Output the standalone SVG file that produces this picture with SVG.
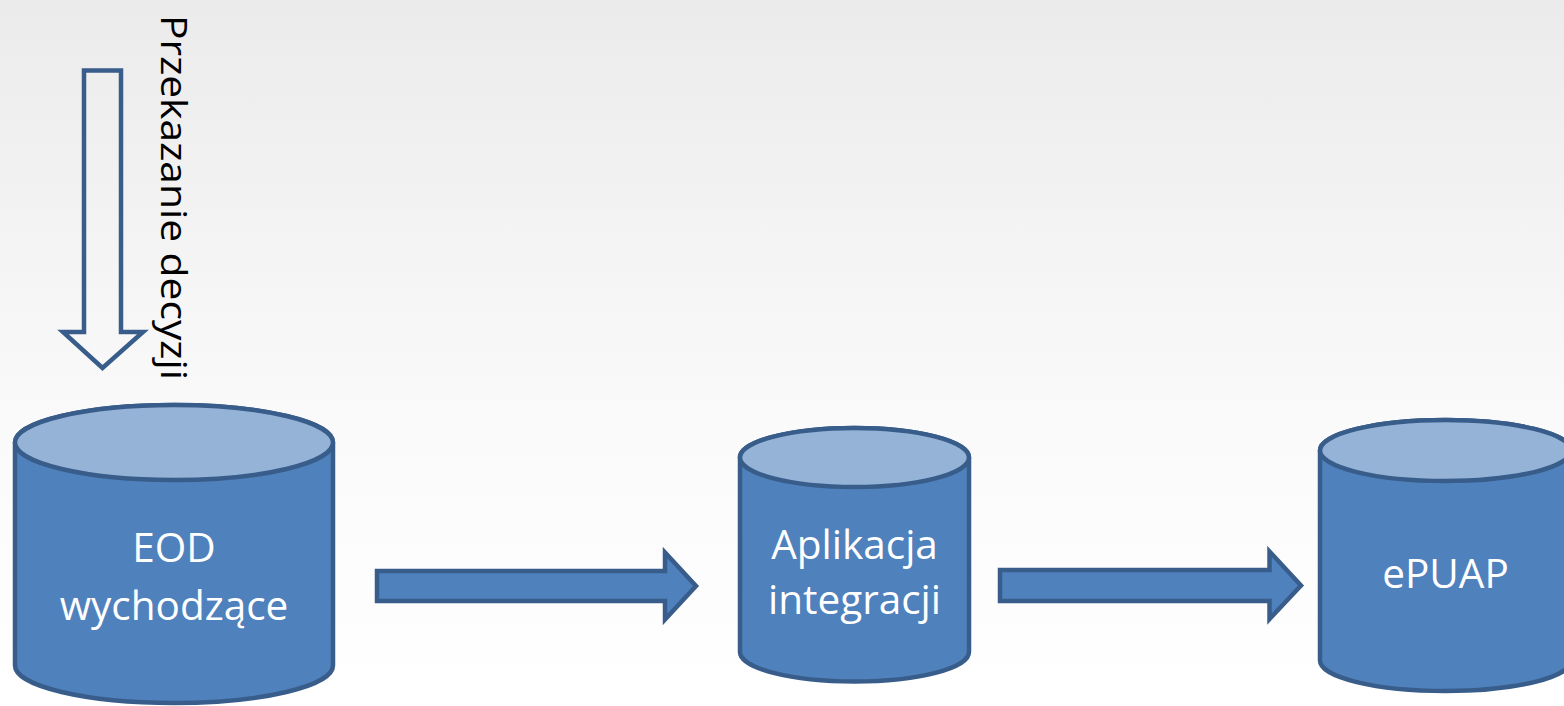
<svg xmlns="http://www.w3.org/2000/svg" width="1564" height="706" viewBox="0 0 1564 706">
  <defs>
    <linearGradient id="bg" x1="0" y1="0" x2="0" y2="1">
      <stop offset="0" stop-color="#ebebeb"/>
      <stop offset="0.6" stop-color="#fafafa"/>
      <stop offset="1" stop-color="#ffffff"/>
    </linearGradient>
  </defs>
  <style>
    .body { fill: #4f81bd; stroke: #385d8a; stroke-width: 4.5; stroke-linejoin: round; }
    .lid { fill: #95b3d7; stroke: #385d8a; stroke-width: 4.5; }
    .flow { fill: #4f81bd; stroke: #385d8a; stroke-width: 4.5; stroke-linejoin: miter; }
    .hollow { fill: none; stroke: #385d8a; stroke-width: 4.5; stroke-linejoin: miter; }
    .lbl { font-family: "Open Sans", "Liberation Sans", sans-serif; font-size: 40.5px; fill: #ffffff; text-anchor: middle; }
    .vt { font-family: "Open Sans", "Liberation Sans", sans-serif; font-size: 36px; fill: #000000; }
  </style>
  <rect x="0" y="0" width="1564" height="706" fill="url(#bg)"/>

  <g id="connectors">
    <polygon id="arrow-decision" class="hollow" points="84,70.5 121,70.5 121,332 143,332 102.5,368 63,332 84,332"/>
    <polygon id="arrow-eod-app" class="flow" points="377,571 665,571 665,552.5 696,586 665,619.5 665,601 377,601"/>
    <polygon id="arrow-app-epuap" class="flow" points="1000,570 1269.5,570 1269.5,551.5 1301,585.5 1269.5,619 1269.5,601 1000,601"/>
  </g>

  <g id="label-decision">
    <text class="vt" transform="translate(161,15) rotate(90)" x="0" y="0" textLength="365" lengthAdjust="spacingAndGlyphs">Przekazanie decyzji</text>
  </g>

  <g id="node-eod">
    <path class="body" d="M15,442.5 V665.5 A159,37.5 0 0 0 333,665.5 V442.5 A159,37.5 0 0 0 15,442.5 Z"/>
    <ellipse class="lid" cx="174" cy="442.5" rx="159" ry="37.5"/>
    <text class="lbl" x="174" y="562">EOD</text>
    <text class="lbl" x="174" y="619.5">wychodzące</text>
  </g>

  <g id="node-app">
    <path class="body" d="M740,457.5 V652 A114.5,29.5 0 0 0 969,652 V457.5 A114.5,29.5 0 0 0 740,457.5 Z"/>
    <ellipse class="lid" cx="854.5" cy="457.5" rx="114.5" ry="29.5"/>
    <text class="lbl" x="854.5" y="559">Aplikacja</text>
    <text class="lbl" x="854.5" y="614">integracji</text>
  </g>

  <g id="node-epuap">
    <path class="body" d="M1320,450.5 V660.5 A125.5,30.5 0 0 0 1571,660.5 V450.5 A125.5,30.5 0 0 0 1320,450.5 Z"/>
    <ellipse class="lid" cx="1445.5" cy="450.5" rx="125.5" ry="30.5"/>
    <text class="lbl" x="1445.5" y="588">ePUAP</text>
  </g>
</svg>
